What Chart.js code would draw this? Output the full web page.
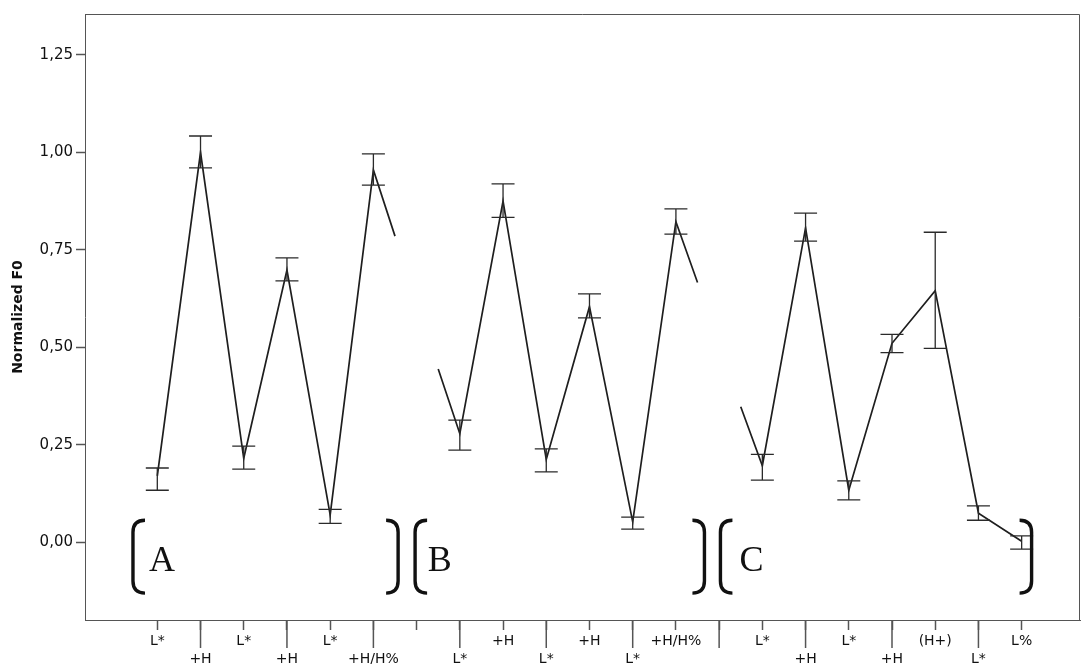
<!DOCTYPE html>
<html>
<head>
<meta charset="utf-8">
<script src="https://cdn.jsdelivr.net/npm/chart.js@4.4.1/dist/chart.umd.min.js"></script>
<style>
  html, body { margin: 0; padding: 0; background: #fff; }
  #wrap { width: 1082px; height: 664px; }
</style>
</head>
<body>
<div id="wrap"><canvas id="c" width="1082" height="664"></canvas></div>
<script>
// ---- data ----
const tickLabels = ['L*','+H','L*','+H','L*','+H/H%','','L*','+H','L*','+H','L*','+H/H%','','L*','+H','L*','+H','(H+)','L*','L%'];
const meanF0 = [0.170, 1.000, 0.215, 0.698, 0.070, 0.955, null, 0.278, 0.875, 0.212, 0.604, 0.052, 0.822, null, 0.196, 0.806, 0.133, 0.510, 0.645, 0.074, 0.002];
const ciHigh = [0.190, 1.042, 0.246, 0.729, 0.084, 0.996, null, 0.313, 0.919, 0.239, 0.637, 0.064, 0.855, null, 0.225, 0.844, 0.157, 0.533, 0.795, 0.093, 0.016];
const ciLow  = [0.133, 0.960, 0.187, 0.670, 0.048, 0.916, null, 0.236, 0.833, 0.180, 0.575, 0.033, 0.790, null, 0.159, 0.772, 0.108, 0.486, 0.497, 0.056, -0.018];
// partial line stubs at the edges of each phrase
const stubX = [5.5, 6.5, 12.5, 13.5];
const stubY = [0.785, 0.444, 0.666, 0.347];
const yTicks = [0, 0.25, 0.5, 0.75, 1.0, 1.25];
const groupLetters = ['A', 'B', 'C'];

// build line points (nulls split the phrases)
const linePts = [];
for (let i = 0; i < meanF0.length; i++) {
  stubX.forEach((sx, k) => { if (sx > i - 1 && sx < i) linePts.push({x: sx, y: stubY[k]}); });
  linePts.push({x: i, y: meanF0[i]});
}
stubX.forEach((sx, k) => { if (sx > meanF0.length - 1) linePts.push({x: sx, y: stubY[k]}); });

// error bars plugin
const errorBars = {
  id: 'errorBars',
  afterDatasetsDraw(chart) {
    const {ctx, scales: {x, y}} = chart;
    ctx.save();
    ctx.strokeStyle = '#2a2a2a';
    ctx.lineWidth = 1.3;
    for (let i = 0; i < meanF0.length; i++) {
      if (ciHigh[i] == null) continue;
      const px = x.getPixelForValue(i);
      const yh = y.getPixelForValue(ciHigh[i]);
      const yl = y.getPixelForValue(ciLow[i]);
      ctx.beginPath();
      ctx.moveTo(px, yh); ctx.lineTo(px, yl);
      ctx.moveTo(px - 11.5, yh); ctx.lineTo(px + 11.5, yh);
      ctx.moveTo(px - 11.5, yl); ctx.lineTo(px + 11.5, yl);
      ctx.stroke();
    }
    ctx.restore();
  }
};

// frame, long ticks, brackets and phrase letters
const decor = {
  id: 'decor',
  afterDraw(chart) {
    const {ctx, chartArea: a, scales: {x, y}} = chart;
    ctx.save();
    // frame top/right
    ctx.strokeStyle = '#555';
    ctx.lineWidth = 1;
    ctx.beginPath();
    ctx.moveTo(a.left, a.top + 0.5); ctx.lineTo(a.right - 0.5, a.top + 0.5); ctx.lineTo(a.right - 0.5, a.bottom);
    ctx.stroke();
    // long ticks for odd categories
    ctx.strokeStyle = '#555';
    ctx.lineWidth = 1.5;
    for (let i = 1; i < tickLabels.length; i += 2) {
      const px = x.getPixelForValue(i);
      ctx.beginPath();
      ctx.moveTo(px, a.bottom); ctx.lineTo(px, a.bottom + 28);
      ctx.stroke();
    }
    // brackets
    const top = y.getPixelForValue(0.056), bot = y.getPixelForValue(-0.131);
    const br = [[-0.563, 1], [5.572, -1], [5.965, 1], [12.66, -1], [13.03, 1], [20.23, -1]];
    ctx.strokeStyle = '#111';
    ctx.lineWidth = 3.4;
    br.forEach(([v, dir]) => {
      const px = x.getPixelForValue(v);
      ctx.beginPath();
      ctx.moveTo(px + dir * 12, top);
      ctx.quadraticCurveTo(px, top, px, top + 12);
      ctx.lineTo(px, bot - 12);
      ctx.quadraticCurveTo(px, bot, px + dir * 12, bot);
      ctx.stroke();
    });
    // letters
    const lx = [-0.19, 6.26, 13.47];
    ctx.fillStyle = '#111';
    ctx.font = '36px "Liberation Serif", "Times New Roman", serif';
    ctx.textBaseline = 'alphabetic';
    ctx.textAlign = 'left';
    groupLetters.forEach((t, k) => {
      ctx.fillText(t, x.getPixelForValue(lx[k]), y.getPixelForValue(-0.074));
    });
    ctx.restore();
  }
};

new Chart(document.getElementById('c'), {
  type: 'line',
  data: {
    datasets: [{
      data: linePts,
      borderColor: '#1e1e1e',
      borderWidth: 1.7,
      pointRadius: 0,
      spanGaps: false,
      tension: 0
    }]
  },
  options: {
    responsive: false,
    animation: false,
    events: [],
    layout: { padding: { top: 14, right: 2, left: 0, bottom: 0 } },
    plugins: { legend: { display: false }, tooltip: { enabled: false } },
    scales: {
      x: {
        type: 'linear',
        min: -1.673,
        max: 21.35,
        afterBuildTicks(s) { s.ticks = tickLabels.map((_, i) => ({value: i})); },
        afterFit(s) { s.height = 44; },
        border: { display: true, color: '#555', width: 1 },
        grid: { display: true, drawOnChartArea: false, drawTicks: true, tickLength: 10, tickColor: '#555', tickWidth: 1.5 },
        ticks: {
          autoSkip: false,
          maxRotation: 0,
          minRotation: 0,
          padding: 2,
          color: '#111',
          font: { family: '"DejaVu Sans", Verdana, sans-serif', size: 14, lineHeight: 1.29 },
          callback(v) {
            const i = Math.round(v);
            const t = tickLabels[i] || '';
            return i % 2 === 0 ? [t, ''] : ['', t];
          }
        }
      },
      y: {
        type: 'linear',
        min: -0.2,
        max: 1.355,
        afterBuildTicks(s) { s.ticks = yTicks.map(v => ({value: v})); },
        afterFit(s) { s.width = 85; },
        border: { display: true, color: '#555', width: 1 },
        grid: { display: true, drawOnChartArea: false, drawTicks: true, tickLength: 9, tickColor: '#555', tickWidth: 1.5 },
        ticks: {
          padding: 3,
          color: '#111',
          font: { family: '"DejaVu Sans", Verdana, sans-serif', size: 15 },
          callback(v) { return v.toFixed(2).replace('.', ','); }
        },
        title: {
          display: true,
          text: 'Normalized F0',
          color: '#111',
          padding: { top: 10, bottom: 4 },
          font: { family: '"DejaVu Sans", Verdana, sans-serif', size: 14, weight: 'bold' }
        }
      }
    }
  },
  plugins: [errorBars, decor]
});
</script>
</body>
</html>
